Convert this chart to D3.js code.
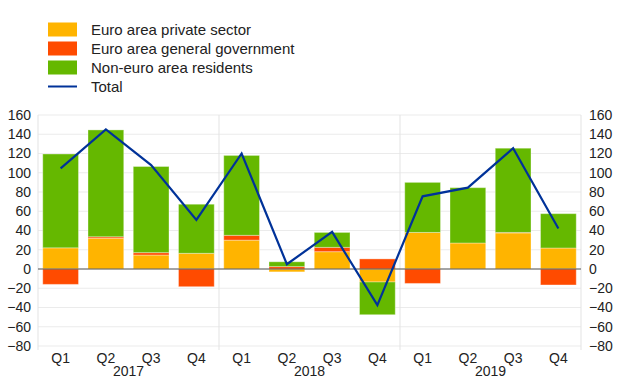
<!DOCTYPE html>
<html><head><meta charset="utf-8">
<script src="https://cdn.jsdelivr.net/npm/d3@7"></script>
<style>body{margin:0;background:#fff}svg{display:block;font-family:"Liberation Sans",Arial,sans-serif}</style>
</head><body><svg id="c" width="620" height="387"></svg>
<script>
const quarters = ["Q1","Q2","Q3","Q4","Q1","Q2","Q3","Q4","Q1","Q2","Q3","Q4"];
const years = ["2017","2018","2019"];
const privateSector = [22, 32, 14.5, 16.3, 30, -3, 18, -13.5, 38, 27, 37.5, 21.8];
const generalGov =    [-16, 1.5, 2.5, -18.4, 5, 2.5, 4.5, 10.5, -15, 0, 0.5, -16.6];
const nonEuro =       [97.5, 111, 89.5, 51, 83, 5, 15.5, -34, 52, 57.5, 87.5, 35.7];
const total =         [104.5, 145, 108, 51, 120, 5, 38.5, -37.5, 75.5, 84.5, 125.5, 42];
const yTicks = [-80,-60,-40,-20,0,20,40,60,80,100,120,140,160];
const seriesNames = ["Euro area private sector","Euro area general government","Non-euro area residents","Total"];
const colors = ["#FFB400","#FF4B00","#65B800","#003299"];

const svg = d3.select("#c");
const L = 38, R = 581, T = 115, B = 346;
const idx = d3.range(quarters.length);
const x = d3.scaleBand().domain(idx).range([L, R]).paddingInner(0.21).paddingOuter(0.105);
const y = d3.scaleLinear().domain([-80, 160]).range([B, T]);

// grid
svg.append("g").selectAll("line").data(yTicks).join("line")
  .attr("x1", L).attr("x2", R).attr("y1", d => y(d)).attr("y2", d => y(d))
  .attr("stroke", "#ebebeb").attr("stroke-width", 1);
// frame verticals and year separators
const step = (R - L) / quarters.length;
[0, 4, 8, 12].forEach(i => {
  const xx = L + i * step;
  svg.append("line").attr("x1", xx).attr("x2", xx).attr("y1", T).attr("y2", B + 4)
    .attr("stroke", "#e3e3e3").attr("stroke-width", 1);
});

// stacked bars
const rows = idx.map(i => ({i, a: privateSector[i], b: generalGov[i], c: nonEuro[i]}));
const stack = d3.stack().keys(["a","b","c"]).offset(d3.stackOffsetDiverging);
const layers = stack(rows);
svg.append("g").selectAll("g").data(layers).join("g")
  .attr("fill", (d, k) => colors[k])
  .selectAll("rect").data(d => d).join("rect")
  .attr("x", d => x(d.data.i)).attr("width", x.bandwidth())
  .attr("y", d => y(Math.max(d[0], d[1])))
  .attr("height", d => Math.abs(y(d[0]) - y(d[1])))
  .attr("stroke", "rgba(255,255,255,0.35)").attr("stroke-width", 1);

// zero line
svg.append("line").attr("x1", L).attr("x2", R).attr("y1", y(0)).attr("y2", y(0))
  .attr("stroke", "#555").attr("stroke-width", 1);

// total line
svg.append("path").datum(idx)
  .attr("d", d3.line().x(i => x(i) + x.bandwidth() / 2).y(i => y(total[i])))
  .attr("fill", "none").attr("stroke", colors[3]).attr("stroke-width", 2.2);

// axes labels
const fs = 14;
svg.append("g").attr("transform", `translate(${L - 7},0)`)
  .call(d3.axisLeft(y).tickValues(yTicks).tickSize(0).tickPadding(0))
  .call(g => g.select(".domain").remove())
  .selectAll("text").attr("font-size", fs).attr("fill", "#222").attr("font-family", null);
svg.append("g").attr("transform", `translate(${R + 8},0)`)
  .call(d3.axisRight(y).tickValues(yTicks).tickSize(0).tickPadding(0))
  .call(g => g.select(".domain").remove())
  .selectAll("text").attr("font-size", fs).attr("fill", "#222").attr("font-family", null);

svg.append("g").selectAll("text").data(idx).join("text")
  .attr("x", i => x(i) + x.bandwidth() / 2).attr("y", 362.5)
  .attr("text-anchor", "middle").attr("font-size", fs).attr("fill", "#222")
  .text(i => quarters[i]);
svg.append("g").selectAll("text").data(years).join("text")
  .attr("x", (d, k) => L + (k * 4 + 2) * step).attr("y", 376)
  .attr("text-anchor", "middle").attr("font-size", fs).attr("fill", "#222")
  .text(d => d);

// legend
const lg = svg.append("g");
seriesNames.forEach((n, k) => {
  const cy = 29.5 + k * 19;
  if (k < 3) {
    lg.append("rect").attr("x", 48).attr("y", cy - 7).attr("width", 29).attr("height", 14)
      .attr("fill", colors[k]);
  } else {
    lg.append("line").attr("x1", 48).attr("x2", 77).attr("y1", cy).attr("y2", cy)
      .attr("stroke", colors[k]).attr("stroke-width", 2);
  }
  lg.append("text").attr("x", 91).attr("y", cy).attr("dy", "0.35em")
    .attr("font-size", 15).attr("fill", "#222").text(n);
});
</script></body></html>
